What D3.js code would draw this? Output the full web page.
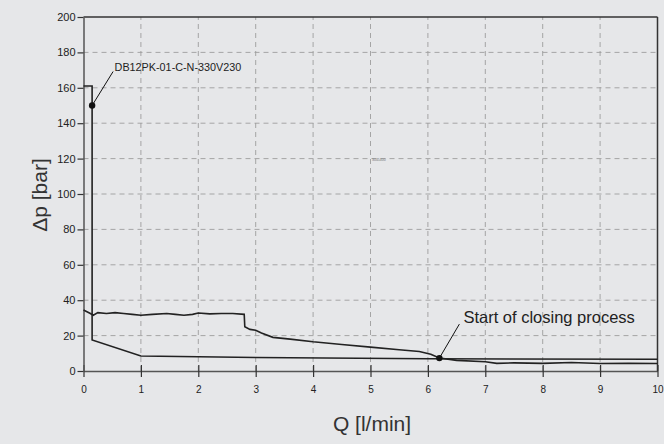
<!DOCTYPE html>
<html><head><meta charset="utf-8">
<script src="https://cdn.jsdelivr.net/npm/d3@7"></script>
<style>
html,body{margin:0;padding:0;background:#e6e7e9;}
svg{display:block;font-family:"Liberation Sans",Arial,sans-serif;}
</style></head>
<body><svg id="c" width="664" height="444"></svg>
<script>
const xTicks = [0,1,2,3,4,5,6,7,8,9,10];
const yTicks = [0,20,40,60,80,100,120,140,160,180,200];
// Curve A: valve characteristic (step, then falling line)
const curveAQ  = [0, 0.15, 0.15, 1.0, 3.0, 6.0, 10.0];
const curveADp = [161, 161, 17.5, 8.5, 7.6, 6.9, 6.6];
// Curve B: measured pressure curve
const curveBQ  = [0,0.12,0.17,0.25,0.4,0.55,0.7,0.85,1.0,1.2,1.45,1.6,1.75,1.9,2.0,2.2,2.4,2.6,2.8,2.81,2.9,3.0,3.1,3.3,3.6,4.0,4.5,5.0,5.5,5.85,6.05,6.2,6.5,7.0,7.2,7.5,8.0,8.5,9.0,9.5,10.0];
const curveBDp = [34.5,32.5,31.5,33,32.5,33,32.5,32,31.5,32,32.5,32,31.5,32,32.8,32.3,32.5,32.5,32,25,23.5,23,21.5,19,18,16.5,15,13.5,12,11,9.5,7.3,6,5.2,4.3,4.6,4.3,4.8,4.2,4.3,4.2];
const annotQ  = [0.15, 6.2];
const annotDp = [150, 7.3];
const annotText = ["DB12PK-01-C-N-330V230", "Start of closing process"];

const svg = d3.select("#c");
const x = d3.scaleLinear().domain([0,10]).range([83.5,657.5]);
const y = d3.scaleLinear().domain([0,200]).range([371,17]);

// grid
const g = svg.append("g");
g.selectAll(".gx").data(xTicks.slice(1,-1)).enter().append("line")
 .attr("x1",d=>x(d)).attr("x2",d=>x(d)).attr("y1",y(0)).attr("y2",y(200))
 .attr("stroke","#9d9d9d").attr("stroke-width",0.9).attr("stroke-dasharray","5,4");
g.selectAll(".gy").data(yTicks.slice(1,-1)).enter().append("line")
 .attr("x1",x(0)).attr("x2",x(10)).attr("y1",d=>y(d)).attr("y2",d=>y(d))
 .attr("stroke","#9d9d9d").attr("stroke-width",0.9).attr("stroke-dasharray","5,4");

// frame
svg.append("line").attr("x1",x(0)).attr("x2",x(10)).attr("y1",y(200)).attr("y2",y(200)).attr("stroke","#333").attr("stroke-width",1.5);
svg.append("line").attr("x1",x(10)).attr("x2",x(10)).attr("y1",y(200)).attr("y2",y(0)).attr("stroke","#333").attr("stroke-width",1.5);

// axes
const xAxis = d3.axisBottom(x).tickValues(xTicks).tickFormat(d3.format("d")).tickSizeInner(6).tickSizeOuter(0).tickPadding(9);
const xa = svg.append("g").attr("transform",`translate(0,${y(0)})`).call(xAxis);
xa.selectAll(".tick line").attr("y1",-6).attr("y2",6).attr("stroke","#333").attr("stroke-width",1.2);
xa.select(".domain").attr("stroke","#555").attr("stroke-width",1.5);
xa.selectAll("text").attr("font-size",10).attr("fill","#222").attr("font-family","Liberation Sans, Arial, sans-serif");

const yAxis = d3.axisLeft(y).tickValues(yTicks).tickSizeInner(6).tickSizeOuter(0).tickPadding(2);
const ya = svg.append("g").attr("transform",`translate(${x(0)},0)`).call(yAxis);
ya.selectAll(".tick line").attr("stroke","#333").attr("stroke-width",1.2);
ya.select(".domain").attr("stroke","#555").attr("stroke-width",1.5);
ya.selectAll("text").attr("font-size",11).attr("fill","#222").attr("font-family","Liberation Sans, Arial, sans-serif");

// curves
const line = d3.line().x(d=>x(d[0])).y(d=>y(d[1]));
svg.append("path").datum(curveAQ.map((q,i)=>[q,curveADp[i]])).attr("d",line)
 .attr("fill","none").attr("stroke","#222").attr("stroke-width",1.6);
svg.append("path").datum(curveBQ.map((q,i)=>[q,curveBDp[i]])).attr("d",line)
 .attr("fill","none").attr("stroke","#222").attr("stroke-width",1.6);

// annotations
const offs = [[21,-34],[20,-34]];
const tdx = [1.5, 4], tdy = [-1, -1.3], fs = [10.8, 16.5];
annotQ.forEach((q,i)=>{
  const px = x(q), py = y(annotDp[i]);
  svg.append("circle").attr("cx",px).attr("cy",py).attr("r",3.2).attr("fill","#111");
  svg.append("line").attr("x1",px).attr("y1",py).attr("x2",px+offs[i][0]).attr("y2",py+offs[i][1])
   .attr("stroke","#111").attr("stroke-width",1);
  svg.append("text").attr("x",px+offs[i][0]+tdx[i]).attr("y",py+offs[i][1]+tdy[i])
   .attr("font-size",fs[i]).attr("fill","#222").text(annotText[i]);
});

// tiny id text
svg.append("text").attr("x",372).attr("y",161).attr("font-size",3.5).attr("fill","#777").text("3045400");

// axis titles
svg.append("text").attr("x",372).attr("y",431).attr("text-anchor","middle").attr("font-size",21).attr("fill","#333").text("Q [l/min]");
svg.append("text").attr("transform","translate(47,195) rotate(-90)").attr("text-anchor","middle").attr("font-size",21).attr("fill","#333").text("Δp [bar]");
</script></body></html>
